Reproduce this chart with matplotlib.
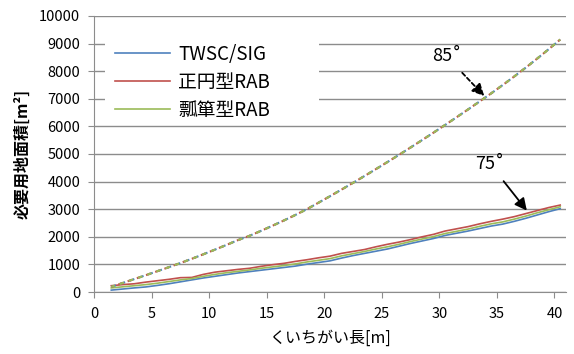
import matplotlib
matplotlib.use("Agg")
import matplotlib.pyplot as plt
from matplotlib.patches import Rectangle

plt.rcParams['font.family'] = ['Noto Sans CJK JP', 'DejaVu Sans']
plt.rcParams['lines.scale_dashes'] = False

# くいちがい長 [m]
length = [1.5, 2.5, 3.5, 4.5, 5.5, 6.5, 7.5, 8.5, 9.5, 10.5,
          11.5, 12.5, 13.5, 14.5, 15.5, 16.5, 17.5, 18.5, 19.5, 20.5,
          21.5, 22.5, 23.5, 24.5, 25.5, 26.5, 27.5, 28.5, 29.5, 30.5,
          31.5, 32.5, 33.5, 34.5, 35.5, 36.5, 37.5, 38.5, 39.5, 40.5]

# 75deg (solid)
twsc_75 = [70, 110, 150, 185, 240, 300, 370, 440, 510, 570,
           630, 690, 740, 790, 840, 890, 940, 1010, 1070, 1130,
           1230, 1320, 1400, 1480, 1560, 1660, 1760, 1850, 1940, 2050,
           2130, 2210, 2300, 2390, 2460, 2560, 2670, 2790, 2910, 3020]
circle_75 = [230, 270, 300, 360, 410, 460, 520, 530, 640, 720,
             770, 820, 860, 930, 990, 1040, 1110, 1170, 1240, 1300,
             1400, 1470, 1540, 1640, 1730, 1810, 1900, 2000, 2090, 2210,
             2290, 2370, 2470, 2560, 2640, 2730, 2840, 2950, 3060, 3150]
gourd_75 = [150, 190, 230, 270, 320, 380, 440, 490, 570, 640,
            700, 750, 800, 860, 910, 960, 1020, 1090, 1150, 1210,
            1310, 1390, 1470, 1560, 1640, 1730, 1830, 1920, 2010, 2120,
            2200, 2280, 2380, 2470, 2540, 2640, 2750, 2870, 2980, 3090]

# 85deg (dashed, three types nearly coincide)
area_85 = [190, 330, 470, 610, 755, 900, 1050, 1205, 1368, 1535,
           1705, 1880, 2035, 2215, 2401, 2593, 2793, 3003, 3235, 3471,
           3711, 3955, 4203, 4455, 4711, 4971, 5235, 5503, 5775, 6051,
           6331, 6615, 6903, 7195, 7495, 7805, 8125, 8455, 8795, 9145]

labels = ["TWSC/SIG", "正円型RAB", "瓢箪型RAB"]
colors = ["#4F81BD", "#C0504D", "#9BBB59"]

fig = plt.figure(figsize=(5.74, 3.54), dpi=100)
ax = fig.add_axes([0.1638, 0.175, 0.8222, 0.78])

solid = [twsc_75, circle_75, gourd_75]
for vals, lab, c in zip(solid, labels, colors):
    ax.plot(length, vals, color=c, lw=1.2, label=lab, zorder=3)

# dashes of the three overlapping series, slightly out of phase
offsets = [0, 1.6, 0.8]
for c, off in zip(colors, offsets):
    ax.plot(length, area_85, color=c, lw=1.5, linestyle=(off, (3.5, 3.5)), zorder=3)

ax.set_xlim(0, 41)
ax.set_ylim(0, 10000)
ax.set_xticks(range(0, 41, 5))
ax.set_yticks(range(0, 10001, 1000))
ax.grid(axis='y', color='#8c8c8c', lw=1.0)
ax.set_axisbelow(True)
for s in ['top', 'right']:
    ax.spines[s].set_visible(False)
for s in ['left', 'bottom']:
    ax.spines[s].set_color('#8c8c8c')
ax.tick_params(axis='both', colors='#8c8c8c', labelcolor='black', length=4,
               labelsize=10.5)
ax.tick_params(axis='y', pad=6)
ax.tick_params(axis='x', pad=7)

ax.set_xlabel("くいちがい長[m]", fontsize=11.5, labelpad=6)
ax.set_ylabel("必要用地面積[m²]", fontsize=11.5, fontweight='bold', labelpad=6)

# white legend area hiding the gridlines
ax.add_patch(Rectangle((0.0233, 0.638), 0.4534, 0.311, transform=ax.transAxes,
                       facecolor='white', edgecolor='none', zorder=1))
leg = ax.legend(loc='upper left', bbox_to_anchor=(0.045, 0.90), borderaxespad=0,
                frameon=False, fontsize=13.5, handlelength=2.9,
                handletextpad=0.45, labelspacing=0.38, borderpad=0)

ax.annotate("85˚", xy=(33.9, 7100), xytext=(30.6, 8550), fontsize=13,
            ha='center', va='center',
            arrowprops=dict(arrowstyle='-|>', color='black', lw=1.3,
                            linestyle=(0, (3, 2)), mutation_scale=18,
                            shrinkA=5, shrinkB=0))
ax.annotate("75˚", xy=(37.6, 2950), xytext=(34.4, 4640), fontsize=13,
            ha='center', va='center',
            arrowprops=dict(arrowstyle='-|>', color='black', lw=1.3,
                            mutation_scale=18, shrinkA=5, shrinkB=0))

fig.savefig("out.png", dpi=100)
